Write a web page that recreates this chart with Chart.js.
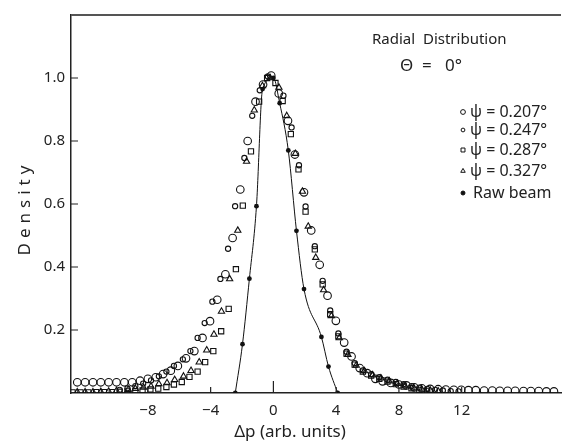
<!DOCTYPE html>
<html lang="en">
<head>
<meta charset="UTF-8">
<title>Radial Distribution</title>
<script src="https://cdn.jsdelivr.net/npm/chart.js"></script>
<style>
    html, body { margin: 0; padding: 0; background: #fff; }
    .chart-box { width: 570px; height: 443px; }
</style>
</head>
<body>
<div class="chart-box"><canvas id="chart"></canvas></div>
<script>
    // psi = 0.207 deg (large open circles)
    const circX = [-12.5, -12.0, -11.5, -11.0, -10.5, -10.0, -9.5, -9.0, -8.5, -8.0, -7.5, -7.03, -6.54, -6.09, -5.57, -5.04, -4.52, -4.04, -3.58, -3.06, -2.6, -2.11, -1.64, -1.14, -0.66, -0.14,
        0.34, 0.93, 1.37, 1.95, 2.41, 2.95, 3.45, 3.98, 4.51, 4.98, 5.5, 5.98, 6.5, 6.96, 7.48, 8.0, 8.48, 8.98, 9.46, 9.99, 10.5, 10.99, 11.5, 11.97, 12.43, 12.9, 13.43, 13.95, 14.43, 14.93, 15.41, 15.94, 16.41, 16.91, 17.4, 17.88];
    const circY = [0.034, 0.034, 0.034, 0.034, 0.034, 0.034, 0.034, 0.034, 0.039, 0.045, 0.05, 0.06, 0.071, 0.086, 0.11, 0.133, 0.175, 0.228, 0.296, 0.377, 0.492, 0.646, 0.80, 0.925, 0.979, 1.008,
        0.951, 0.864, 0.757, 0.637, 0.516, 0.407, 0.309, 0.229, 0.16, 0.116, 0.079, 0.063, 0.045, 0.037, 0.032, 0.027, 0.024, 0.018, 0.015, 0.013, 0.012, 0.011, 0.01, 0.01, 0.009, 0.009, 0.008, 0.008, 0.007, 0.007, 0.007, 0.006, 0.006, 0.006, 0.005, 0.005];

    // psi = 0.247 deg (small open circles)
    const smallX = [-9.8, -9.3, -8.8, -8.3, -7.8, -7.3, -6.82, -6.34, -5.77, -5.29, -4.83, -4.38, -3.89, -3.38, -2.89, -2.44, -1.85, -1.35, -0.87, -0.35,
        0.64, 1.16, 1.63, 2.05, 2.64, 3.14, 3.62, 4.14, 4.66, 5.18, 5.7, 6.23, 6.75, 7.27, 7.8, 8.3, 8.8, 9.3, 9.8, 10.3, 10.8, 11.3, 11.8];
    const smallY = [0.01, 0.015, 0.022, 0.03, 0.04, 0.053, 0.068, 0.086, 0.107, 0.133, 0.175, 0.222, 0.29, 0.362, 0.458, 0.593, 0.746, 0.88, 0.961, 1.005,
        0.944, 0.843, 0.723, 0.592, 0.466, 0.356, 0.262, 0.189, 0.131, 0.095, 0.072, 0.06, 0.05, 0.042, 0.035, 0.028, 0.022, 0.017, 0.013, 0.01, 0.008, 0.006, 0.005];

    // psi = 0.287 deg (open squares)
    const sqX = [-12.8, -12.3, -11.8, -11.3, -10.8, -10.3, -9.8, -9.3, -8.8, -8.34, -7.84, -7.34, -6.82, -6.34, -5.84, -5.35, -4.83, -4.35, -3.83, -3.33, -2.85, -2.39, -1.95, -1.43, -0.91, -0.4, 0.13,
        0.59, 1.11, 1.6, 2.05, 2.64, 3.14, 3.62, 4.14, 4.66, 5.18, 5.7, 6.23, 6.75, 7.27, 7.8, 8.3, 8.8, 9.3, 9.8];
    const sqY = [0.002, 0.002, 0.002, 0.003, 0.003, 0.003, 0.004, 0.005, 0.006, 0.008, 0.011, 0.014, 0.019, 0.027, 0.035, 0.051, 0.068, 0.098, 0.133, 0.196, 0.267, 0.393, 0.595, 0.767, 0.925, 1.0, 0.984,
        0.927, 0.822, 0.71, 0.576, 0.456, 0.345, 0.25, 0.18, 0.125, 0.09, 0.068, 0.055, 0.045, 0.036, 0.028, 0.02, 0.015, 0.01, 0.007];

    // psi = 0.327 deg (open triangles)
    const triX = [-12.5, -12.0, -11.5, -11.0, -10.5, -10.0, -9.26, -8.8, -8.28, -7.8, -7.3, -6.78, -6.29, -5.73, -5.25, -4.73, -4.25, -3.79, -3.31, -2.79, -2.27, -1.71, -1.22, -0.7, -0.2,
        0.35, 0.85, 1.4, 1.85, 2.22, 2.7, 3.2, 3.7, 4.2, 4.75, 5.28, 5.8, 6.32, 6.85, 7.38, 7.9, 8.4, 8.95, 9.45, 10.0, 10.5];
    const triY = [0.003, 0.003, 0.003, 0.004, 0.005, 0.007, 0.011, 0.014, 0.018, 0.021, 0.029, 0.032, 0.042, 0.053, 0.071, 0.098, 0.136, 0.186, 0.259, 0.362, 0.516, 0.735, 0.898, 0.975, 1.0,
        0.97, 0.88, 0.76, 0.64, 0.529, 0.43, 0.327, 0.245, 0.175, 0.122, 0.088, 0.07, 0.057, 0.047, 0.038, 0.03, 0.022, 0.016, 0.012, 0.008, 0.006];

    // raw beam (filled dots joined by a curve)
    const rawX = [-2.43, -1.97, -1.53, -1.08, -0.69, 0.0, 0.4, 0.95, 1.47, 1.95, 3.06, 3.51, 4.1];
    const rawY = [0.0, 0.155, 0.363, 0.593, 0.965, 1.0, 0.92, 0.77, 0.515, 0.33, 0.178, 0.084, 0.0];

    const xTickValues = [-8, -4, 0, 4, 8, 12];
    const yTickValues = [0.2, 0.4, 0.6, 0.8, 1.0];

    const legendRows = [
        { text: 'ψ = 0.207°', style: 'circle', r: 2.4, fill: false, y: 112 },
        { text: 'ψ = 0.247°', style: 'circle', r: 1.9, fill: false, y: 130 },
        { text: 'ψ = 0.287°', style: 'rect', r: 2.8, fill: false, y: 150 },
        { text: 'ψ = 0.327°', style: 'triangle', r: 2.6, fill: false, y: 171 },
        { text: 'Raw beam', style: 'circle', r: 2.0, fill: true, y: 193 }
    ];

    const FONT = "'Noto Sans', 'DejaVu Sans', sans-serif";
    const INK = '#222';

    const toPts = (xs, ys) => xs.map((x, i) => ({ x: x, y: ys[i] }));

    function markerSet(label, xs, ys, style, radius) {
        return {
            label: label,
            data: toPts(xs, ys),
            showLine: false,
            pointStyle: style,
            pointRadius: radius,
            pointBorderWidth: 1.1,
            pointBorderColor: '#111',
            pointBackgroundColor: 'rgba(255,255,255,0)'
        };
    }

    // frame, inward ticks, and the annotation text
    const decor = {
        id: 'decor',
        afterDraw(chart) {
            const ctx = chart.ctx;
            const a = chart.chartArea;
            const xs = chart.scales.x;
            const ys = chart.scales.y;
            ctx.save();

            // top frame line
            ctx.strokeStyle = '#555';
            ctx.lineWidth = 2;
            ctx.beginPath();
            ctx.moveTo(a.left, a.top);
            ctx.lineTo(a.right, a.top);
            ctx.stroke();

            // inward ticks
            ctx.strokeStyle = '#222';
            ctx.lineWidth = 1.2;
            ctx.beginPath();
            xTickValues.forEach(v => {
                const px = xs.getPixelForValue(v);
                ctx.moveTo(px, a.bottom);
                ctx.lineTo(px, a.bottom - (v === 0 ? 12 : 6));
            });
            yTickValues.forEach(v => {
                const py = ys.getPixelForValue(v);
                ctx.moveTo(a.left, py);
                ctx.lineTo(a.left + 7, py);
            });
            ctx.stroke();

            ctx.fillStyle = INK;
            ctx.textBaseline = 'middle';

            // heading
            ctx.font = '15px ' + FONT;
            ctx.textAlign = 'left';
            ctx.fillText('Radial  Distribution', 372, 40);
            ctx.font = '17px ' + FONT;
            ctx.fillText('Θ  =   0°', 400, 66);

            // legend
            legendRows.forEach(row => {
                ctx.strokeStyle = '#111';
                ctx.fillStyle = row.fill ? '#111' : 'rgba(255,255,255,0)';
                ctx.lineWidth = 1;
                Chart.helpers.drawPoint(ctx, { pointStyle: row.style, radius: row.r, rotation: 0, borderWidth: 1 }, 463, row.y);
                ctx.fillStyle = INK;
                ctx.font = '16px ' + FONT;
                ctx.fillText(row.text, row.fill ? 473 : 470, row.y);
            });

            // axis titles
            ctx.font = '17px ' + FONT;
            ctx.textAlign = 'center';
            ctx.fillText('Δp (arb. units)', 290, 432);

            ctx.translate(25, 210);
            ctx.rotate(-Math.PI / 2);
            ctx.letterSpacing = '5px';
            ctx.fillText('Density', 2, 0);
            ctx.restore();
        }
    };

    new Chart(document.getElementById('chart'), {
        type: 'scatter',
        data: {
            datasets: [
                markerSet('ψ = 0.207°', circX, circY, 'circle', 3.8),
                markerSet('ψ = 0.247°', smallX, smallY, 'circle', 2.6),
                markerSet('ψ = 0.287°', sqX, sqY, 'rect', 3.7),
                markerSet('ψ = 0.327°', triX, triY, 'triangle', 3.6),
                {
                    label: 'Raw beam',
                    data: toPts(rawX, rawY),
                    showLine: true,
                    cubicInterpolationMode: 'monotone',
                    borderColor: '#111',
                    borderWidth: 1,
                    pointRadius: 2.4,
                    pointBorderWidth: 0,
                    pointBackgroundColor: '#111'
                }
            ]
        },
        options: {
            responsive: true,
            maintainAspectRatio: false,
            animation: false,
            devicePixelRatio: 1,
            events: [],
            layout: { padding: { top: 11, right: 0, bottom: 0, left: 0 } },
            plugins: {
                legend: { display: false },
                tooltip: { enabled: false }
            },
            scales: {
                x: {
                    type: 'linear',
                    min: -12.9,
                    max: 18.33,
                    grid: { display: false, drawTicks: false },
                    border: { display: true, color: '#222', width: 1.5 },
                    ticks: {
                        stepSize: 4,
                        autoSkip: false,
                        maxRotation: 0,
                        padding: 9,
                        color: INK,
                        font: { family: FONT, size: 15 },
                        callback: v => xTickValues.includes(v) ? (v < 0 ? '−' + Math.abs(v) : String(v)) : ''
                    },
                    afterFit: s => { s.height = 50; }
                },
                y: {
                    min: 0,
                    max: 1.2,
                    grid: { display: false, drawTicks: false },
                    border: { display: true, color: '#222', width: 1.5 },
                    ticks: {
                        stepSize: 0.2,
                        padding: 6,
                        color: INK,
                        font: { family: FONT, size: 15 },
                        callback: v => (v > 0.1 && v < 1.1) ? v.toFixed(1) : ''
                    },
                    afterFit: s => { s.width = 71; }
                }
            }
        },
        plugins: [decor]
    });
</script>
</body>
</html>
